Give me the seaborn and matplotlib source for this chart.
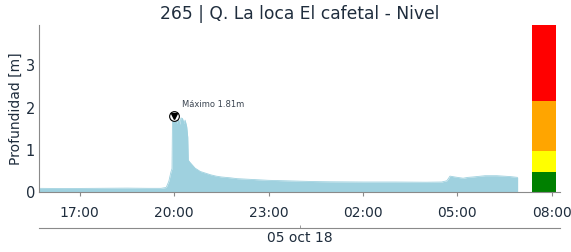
import matplotlib
matplotlib.use("Agg")
import matplotlib.pyplot as plt
import matplotlib.dates as mdates
import seaborn as sns
import pandas as pd
import numpy as np

# ---- data ----
times = [
    "2018-10-04 15:43", "2018-10-04 16:30", "2018-10-04 17:30", "2018-10-04 18:30",
    "2018-10-04 19:10", "2018-10-04 19:35", "2018-10-04 19:45", "2018-10-04 19:50",
    "2018-10-04 19:54", "2018-10-04 19:56", "2018-10-04 19:57", "2018-10-04 20:00",
    "2018-10-04 20:03", "2018-10-04 20:05", "2018-10-04 20:06", "2018-10-04 20:09",
    "2018-10-04 20:11", "2018-10-04 20:13", "2018-10-04 20:16", "2018-10-04 20:19",
    "2018-10-04 20:21", "2018-10-04 20:24", "2018-10-04 20:26", "2018-10-04 20:27",
    "2018-10-04 20:30", "2018-10-04 20:40", "2018-10-04 20:50", "2018-10-04 21:00",
    "2018-10-04 21:10", "2018-10-04 21:20", "2018-10-04 21:30", "2018-10-04 21:47",
    "2018-10-04 22:00", "2018-10-04 22:30", "2018-10-04 23:00", "2018-10-04 23:30",
    "2018-10-05 00:00", "2018-10-05 00:30", "2018-10-05 01:00", "2018-10-05 02:00",
    "2018-10-05 03:00", "2018-10-05 04:00", "2018-10-05 04:30", "2018-10-05 04:40",
    "2018-10-05 04:46", "2018-10-05 04:55", "2018-10-05 05:11", "2018-10-05 05:20",
    "2018-10-05 05:30", "2018-10-05 05:53", "2018-10-05 06:15", "2018-10-05 06:40",
    "2018-10-05 06:55",
]
levels = [
    0.08, 0.075, 0.08, 0.085,
    0.08, 0.08, 0.10, 0.25,
    0.47, 0.55, 1.75, 1.81,
    1.72, 1.62, 1.78, 1.70,
    1.60, 1.75, 1.74, 1.62,
    1.70, 1.55, 1.30, 0.75,
    0.70, 0.56, 0.48, 0.44,
    0.40, 0.37, 0.35, 0.33,
    0.31, 0.29, 0.27, 0.26,
    0.25, 0.24, 0.235, 0.23,
    0.23, 0.225, 0.23, 0.26,
    0.37, 0.35, 0.32, 0.34,
    0.35, 0.38, 0.38, 0.36,
    0.34,
]
peak_time = "2018-10-04 20:00"
peak_value = 1.81
peak_label = "Máximo 1.81m"

alert_time = "2018-10-05 07:45"
alert_bounds = [0.0, 0.475, 0.967, 2.16, 3.95]
alert_colors = ["#008000", "#ffff00", "#ffa500", "#ff0000"]

xlim = ["2018-10-04 15:43", "2018-10-05 08:16"]
tick_times = ["2018-10-04 17:00", "2018-10-04 20:00", "2018-10-04 23:00",
              "2018-10-05 02:00", "2018-10-05 05:00", "2018-10-05 08:00"]
date_label = "05 oct 18"
title = "265 | Q. La loca El cafetal - Nivel"
ylabel = "Profundidad [m]"

# ---- plot ----
sns.set_style("white")
plt.rcParams["font.family"] = ["DejaVu Sans"]
text_color = "#1f2d3d"
spine_color = "#8a8a8a"
fill_color = "#9fd1df"

df = pd.DataFrame({"t": pd.to_datetime(times), "nivel": levels})

fig = plt.figure(figsize=(5.71, 2.52), dpi=100)
ax = fig.add_axes([0.0688, 0.2393, 0.9122, 0.6615])

ax.fill_between(df["t"], 0, df["nivel"], color=fill_color, linewidth=0)
sns.lineplot(data=df, x="t", y="nivel", ax=ax, color=fill_color, linewidth=0.6)

# alert bar
bt = pd.to_datetime(alert_time)
bw = 46 / (24 * 60)
for lo, hi, c in zip(alert_bounds[:-1], alert_bounds[1:], alert_colors):
    ax.bar(bt, hi - lo, bottom=lo, width=bw, color=c, linewidth=0)

# peak marker + annotation
pt = pd.to_datetime(peak_time)
ax.plot([pt], [peak_value], marker="o", ms=7, mfc="white", mec="black", mew=0.8, ls="none", zorder=5)
ax.plot([pt], [peak_value], marker="v", ms=4.5, color="black", ls="none", zorder=6)
ax.annotate(peak_label, xy=(pt, peak_value), xytext=(6, 6), textcoords="offset points",
            fontsize=6, color="#3a4450")

ax.set_xlim(pd.to_datetime(xlim[0]), pd.to_datetime(xlim[1]))
ax.set_ylim(0, 3.96)
ax.set_xticks(pd.to_datetime(tick_times))
ax.xaxis.set_major_formatter(mdates.DateFormatter("%H:%M"))
ax.set_yticks([0, 1, 2, 3])
ax.tick_params(axis="x", length=3, width=0.8, color=spine_color, labelsize=10,
               labelcolor=text_color, pad=7)
ax.tick_params(axis="y", length=0, labelsize=10.5, labelcolor=text_color, pad=3)
ax.set_xlabel("")
ax.set_ylabel(ylabel, fontsize=10, color=text_color, labelpad=2)
ax.set_title(title, fontsize=12.3, color=text_color, pad=4)

for s in ["top", "right"]:
    ax.spines[s].set_visible(False)
for s in ["left", "bottom"]:
    ax.spines[s].set_color(spine_color)
    ax.spines[s].set_linewidth(0.8)

# secondary date axis
ax2 = ax.twiny()
ax2.set_xlim(0, 1)
ax2.xaxis.set_ticks_position("bottom")
ax2.xaxis.set_label_position("bottom")
ax2.spines["bottom"].set_position(("outward", 26))
for s in ["top", "right", "left"]:
    ax2.spines[s].set_visible(False)
ax2.spines["bottom"].set_color(spine_color)
ax2.spines["bottom"].set_linewidth(0.8)
ax2.set_xticks([0.5])
ax2.set_xticklabels([date_label])
ax2.tick_params(axis="x", length=2, direction="in", width=0.6, color=spine_color,
                labelsize=10, labelcolor=text_color, pad=2)
ax2.tick_params(axis="y", left=False, right=False, labelleft=False, labelright=False)

fig.savefig("out.png", dpi=100)
